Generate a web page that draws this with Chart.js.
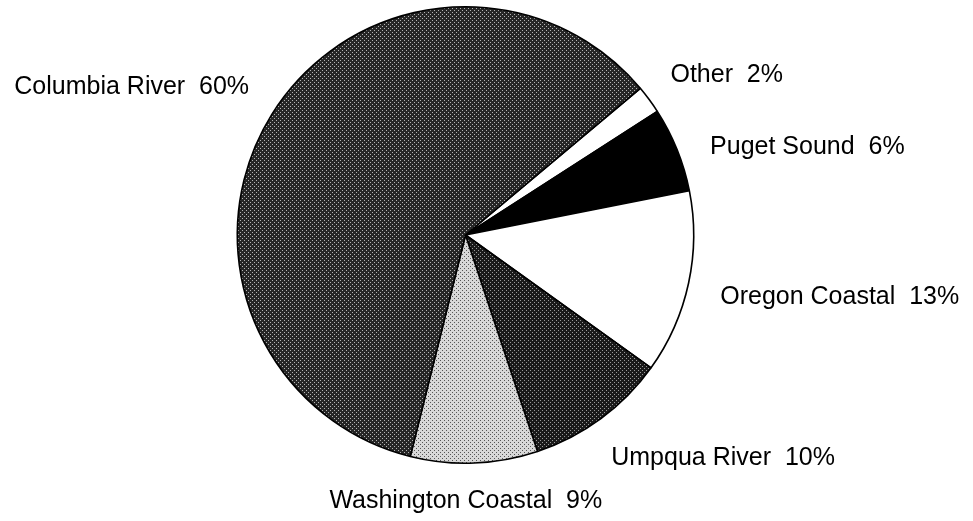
<!DOCTYPE html>
<html>
<head>
<meta charset="utf-8">
<script src="https://cdn.jsdelivr.net/npm/chart.js@4/dist/chart.umd.min.js"></script>
<style>
  html, body { margin: 0; padding: 0; background: #fff; }
  #wrap { width: 973px; height: 521px; }
</style>
</head>
<body>
<div id="wrap"><canvas id="pie" width="973" height="521"></canvas></div>
<script>
// Share of total by basin (percent), drawn clockwise from "Other"
const basins = ["Other", "Puget Sound", "Oregon Coastal", "Umpqua River", "Washington Coastal", "Columbia River"];
const shares = [2, 6, 13, 10, 9, 60];

// Halftone-style screen fills
function screen(bg, fg, dot) {
  const t = document.createElement('canvas');
  t.width = 4; t.height = 4;
  const c = t.getContext('2d');
  c.fillStyle = bg; c.fillRect(0, 0, 4, 4);
  c.fillStyle = fg;
  c.fillRect(0, 0, dot, dot);
  c.fillRect(2, 2, dot, dot);
  return c.createPattern(t, 'repeat');
}
const ctx = document.getElementById('pie').getContext('2d');
const fills = [
  '#ffffff',                        // Other
  '#000000',                        // Puget Sound
  '#ffffff',                        // Oregon Coastal
  screen('#1a1a1a', '#9a9a9a', 1),  // Umpqua River
  screen('#d8d8d8', '#555555', 1),  // Washington Coastal
  screen('#262626', '#b4b4b4', 1)   // Columbia River
];

// Small pixel nudges for each label relative to its radial anchor
const labelNudge = [[10, -17], [20, 2], [18, 10], [2, 27], [-9, 23], [-11, -21]];

const outsideLabels = {
  id: 'outsideLabels',
  afterDatasetsDraw(chart) {
    const c = chart.ctx;
    const meta = chart.getDatasetMeta(0);
    c.save();
    c.fillStyle = '#000';
    c.font = '25px "Liberation Sans", Arial, sans-serif';
    c.textBaseline = 'alphabetic';
    meta.data.forEach((arc, i) => {
      const { x, y, startAngle, endAngle, outerRadius } = arc.getProps(['x', 'y', 'startAngle', 'endAngle', 'outerRadius'], true);
      const mid = (startAngle + endAngle) / 2;
      const cx = Math.cos(mid), cy = Math.sin(mid);
      const r = outerRadius + 14;
      const ax = x + cx * r + labelNudge[i][0];
      const ay = y + cy * r + labelNudge[i][1];
      const text = basins[i] + '  ' + shares[i] + '%';
      const w = c.measureText(text).width;
      let left;
      if (cx > 0.25) left = ax;
      else if (cx < -0.25) left = ax - w;
      else left = ax - w / 2;
      c.fillText(text, left, ay + 8);
    });
    c.restore();
  }
};

new Chart(ctx, {
  type: 'pie',
  data: {
    labels: basins,
    datasets: [{
      data: shares,
      backgroundColor: fills,
      borderColor: '#000',
      borderWidth: 1.6,
      borderAlign: 'center'
    }]
  },
  options: {
    responsive: false,
    animation: false,
    rotation: 50,
    layout: { padding: { top: 6, bottom: 57, left: 201, right: 243 } },
    plugins: {
      legend: { display: false },
      tooltip: { enabled: false }
    }
  },
  plugins: [outsideLabels]
});
</script>
</body>
</html>
